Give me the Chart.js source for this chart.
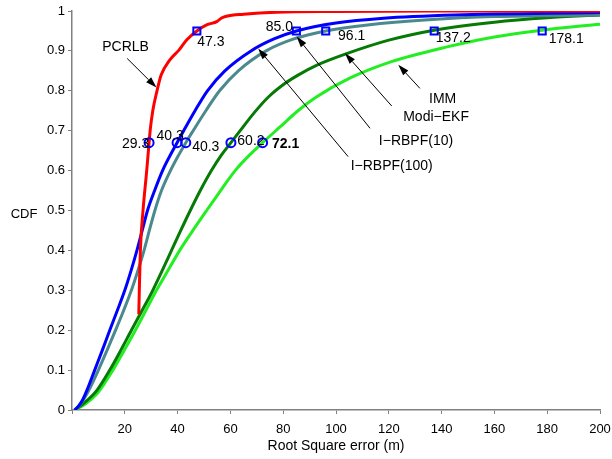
<!DOCTYPE html>
<html>
<head>
<meta charset="utf-8">
<script src="https://cdn.jsdelivr.net/npm/chart.js@4"></script>
<style>
  html, body { margin: 0; padding: 0; background: #fff; }
  #wrap { width: 612px; height: 459px; }
</style>
</head>
<body>
<div id="wrap"><canvas id="cdf" width="612" height="459"></canvas></div>
<script>
// curves: x = root square error (m), y = CDF
const pcrlbX = [25.3, 25.5, 25.9, 26.9, 28.3, 29.2, 29.6, 30.6, 32.2, 33.8, 37, 40.5, 43.5, 47.3, 51, 55, 56.5, 58.5, 65, 77.5, 100, 140, 200];
const pcrlbY = [0.24, 0.30, 0.40, 0.50, 0.60, 0.67, 0.70, 0.75, 0.80, 0.84, 0.877, 0.902, 0.928, 0.95, 0.965, 0.974, 0.982, 0.987, 0.992, 0.997, 0.999, 1.0, 1.0];

const rbpf100X = [1, 2.5, 4, 6, 8.6, 11.5, 14.3, 17.2, 20, 22.4, 24.6, 26.6, 28.6, 31.3, 34.3, 39.8, 42.3, 46.6, 51.3, 57.9, 67.8, 76.5, 85, 100, 118, 145, 200];
const rbpf100Y = [0, 0.01, 0.025, 0.055, 0.1, 0.15, 0.2, 0.25, 0.3, 0.35, 0.4, 0.45, 0.5, 0.55, 0.6, 0.67, 0.7, 0.75, 0.8, 0.85, 0.9, 0.93, 0.95, 0.97, 0.982, 0.99, 0.996];

const rbpf10X = [1, 2.7, 4.3, 6.8, 10, 13.3, 16.5, 19.6, 22.5, 25, 27.3, 29.3, 31.4, 33.9, 37.3, 40.5, 43.1, 45.9, 50.7, 55.9, 63, 73.5, 84, 96.1, 112, 135, 160, 200];
const rbpf10Y = [0, 0.01, 0.025, 0.055, 0.1, 0.15, 0.2, 0.25, 0.3, 0.35, 0.4, 0.45, 0.5, 0.55, 0.6, 0.64, 0.67, 0.7, 0.75, 0.8, 0.85, 0.9, 0.93, 0.95, 0.965, 0.978, 0.986, 0.99];

const modiEkfX = [1, 5, 9.5, 14.3, 18.5, 22.5, 26.6, 30.6, 34.2, 37.7, 41.2, 44.8, 48.6, 52.8, 56.7, 60.2, 63.7, 68.9, 74.5, 81, 85.8, 93, 103.5, 120, 137.2, 160, 180, 200];
const modiEkfY = [0, 0.02, 0.05, 0.1, 0.15, 0.2, 0.25, 0.3, 0.35, 0.4, 0.45, 0.5, 0.55, 0.6, 0.64, 0.67, 0.7, 0.744, 0.785, 0.82, 0.84, 0.865, 0.892, 0.927, 0.952, 0.972, 0.983, 0.99];

const immX = [1, 5, 10, 15.5, 19.8, 24, 28, 32, 36.4, 40.8, 45.8, 51, 56.3, 61.8, 67.4, 72.2, 78.9, 85.6, 92.7, 105, 121, 142, 160, 178.1, 200];
const immY = [0, 0.015, 0.045, 0.1, 0.15, 0.2, 0.25, 0.3, 0.35, 0.4, 0.45, 0.5, 0.55, 0.6, 0.64, 0.67, 0.71, 0.75, 0.785, 0.831, 0.873, 0.91, 0.935, 0.952, 0.967];

// marked values: circles at CDF 0.67, squares at CDF 0.95
const circleX = [29.2, 39.8, 43.1, 60.2, 72.2];
const circleLabels = ['29.3', '40.3', '40.3', '60.2', '72.1'];
const circleY = 0.67;
const squareX = [47.3, 85.0, 96.1, 137.2, 178.1];
const squareLabels = ['47.3', '85.0', '96.1', '137.2', '178.1'];
const squareY = 0.95;

const xTicks = [0, 20, 40, 60, 80, 100, 120, 140, 160, 180, 200];
const yTicks = [0, 0.1, 0.2, 0.3, 0.4, 0.5, 0.6, 0.7, 0.8, 0.9, 1];

// curve name arrows: [text, textX, textY, tailX, tailY, headX, headY] in data units
const arrowNotes = [
  ['PCRLB', 20.3, 0.91, 20.9, 0.881, 32.0, 0.808],
  ['I\u2212RBPF(100)', 121.1, 0.612, 104.6, 0.635, 70.5, 0.906],
  ['I\u2212RBPF(10)', 130.3, 0.675, 112.9, 0.706, 85.1, 0.936],
  ['Modi\u2212EKF', 137.9, 0.733, 121.1, 0.762, 103.4, 0.894],
  ['IMM', 140.4, 0.779, 131.8, 0.806, 123.6, 0.865]
];

const FONT = '"Liberation Sans", Arial, Helvetica, sans-serif';

function pts(xs, ys) {
  return xs.map((x, i) => ({ x: x, y: ys[i] }));
}

function curve(label, xs, ys, color) {
  return {
    label: label,
    data: pts(xs, ys),
    borderColor: color,
    backgroundColor: color,
    borderWidth: 3,
    pointRadius: 0,
    cubicInterpolationMode: 'monotone',
    fill: false
  };
}

// pixel offsets of the value labels from their markers
const circleOffsets = [[-13.5, 1], [-7, -7], [20, 4], [20, -2], [23, 1]];
const squareOffsets = [[14, 11], [-17, -4], [26, 5], [19, 7], [24, 8]];

const notesPlugin = {
  id: 'notes',
  afterDatasetsDraw(chart) {
    const ctx = chart.ctx;
    const xs = chart.scales.x;
    const ys = chart.scales.y;
    ctx.save();
    ctx.textAlign = 'center';
    ctx.textBaseline = 'middle';
    ctx.fillStyle = '#000';

    // value labels
    circleX.forEach((v, i) => {
      const px = xs.getPixelForValue(v);
      const py = ys.getPixelForValue(circleY);
      ctx.font = (circleLabels[i] === '72.1' ? 'bold ' : '') + '14px ' + FONT;
      ctx.fillText(circleLabels[i], px + circleOffsets[i][0], py + circleOffsets[i][1]);
    });
    ctx.font = '14px ' + FONT;
    squareX.forEach((v, i) => {
      const px = xs.getPixelForValue(v);
      const py = ys.getPixelForValue(squareY);
      ctx.fillText(squareLabels[i], px + squareOffsets[i][0], py + squareOffsets[i][1]);
    });

    // arrows with curve names
    arrowNotes.forEach((n) => {
      const tx = xs.getPixelForValue(n[1]), ty = ys.getPixelForValue(n[2]);
      const x0 = xs.getPixelForValue(n[3]), y0 = ys.getPixelForValue(n[4]);
      const x1 = xs.getPixelForValue(n[5]), y1 = ys.getPixelForValue(n[6]);
      ctx.fillText(n[0], tx, ty);
      const a = Math.atan2(y1 - y0, x1 - x0);
      const len = 11, half = 3.5;
      const bx = x1 - len * Math.cos(a), by = y1 - len * Math.sin(a);
      ctx.strokeStyle = '#000';
      ctx.lineWidth = 1;
      ctx.beginPath();
      ctx.moveTo(x0, y0);
      ctx.lineTo(bx, by);
      ctx.stroke();
      ctx.beginPath();
      ctx.moveTo(x1, y1);
      ctx.lineTo(bx + half * Math.sin(a), by - half * Math.cos(a));
      ctx.lineTo(bx - half * Math.sin(a), by + half * Math.cos(a));
      ctx.closePath();
      ctx.fill();
    });

    // y axis name, written level like the original
    ctx.font = '13px ' + FONT;
    ctx.fillText('CDF', chart.chartArea.left - 48, ys.getPixelForValue(0.49));
    ctx.restore();
  }
};

// keep the plot box fixed: no automatic padding for edge labels
function noEdgePad(s) {
  s.paddingLeft = 0;
  s.paddingRight = 0;
  s.paddingTop = 0;
  s.paddingBottom = 0;
}

const ctx = document.getElementById('cdf');
new Chart(ctx, {
  type: 'line',
  data: {
    datasets: [
      {
        label: 'circles',
        type: 'scatter',
        data: circleX.map(x => ({ x: x, y: circleY })),
        pointStyle: 'circle',
        pointRadius: 4.5,
        pointBorderWidth: 2,
        borderColor: '#0000ff',
        backgroundColor: 'rgba(0,0,0,0)',
        showLine: false
      },
      {
        label: 'squares',
        type: 'scatter',
        data: squareX.map(x => ({ x: x, y: squareY })),
        pointStyle: 'rect',
        pointRadius: 5,
        pointBorderWidth: 2,
        borderColor: '#0000ff',
        backgroundColor: 'rgba(0,0,0,0)',
        showLine: false
      },
      curve('PCRLB', pcrlbX, pcrlbY, '#ff0000'),
      curve('I-RBPF(100)', rbpf100X, rbpf100Y, '#0000ff'),
      curve('I-RBPF(10)', rbpf10X, rbpf10Y, '#4a8a8e'),
      curve('Modi-EKF', modiEkfX, modiEkfY, '#057a05'),
      curve('IMM', immX, immY, '#22ee22')
    ]
  },
  options: {
    responsive: false,
    animation: false,
    layout: { autoPadding: false, padding: { left: 0, right: 12, top: 11, bottom: 0 } },
    plugins: {
      legend: { display: false },
      tooltip: { enabled: false }
    },
    scales: {
      x: {
        type: 'linear',
        min: 0,
        max: 200,
        afterBuildTicks: (s) => { s.ticks = xTicks.map(v => ({ value: v })); },
        afterFit: (s) => { s.height = 49; noEdgePad(s); },
        ticks: {
          color: '#000',
          font: { family: FONT, size: 13 },
          padding: 8,
          maxRotation: 0,
          callback: (v) => (v === 0 ? '' : String(v))
        },
        grid: { drawOnChartArea: false, drawTicks: true, tickLength: 4, color: '#808080' },
        border: { color: '#808080', width: 1.5 },
        title: {
          display: true,
          text: 'Root Square error (m)',
          color: '#000',
          font: { family: FONT, size: 14 },
          padding: { top: 0, bottom: 4 }
        }
      },
      y: {
        type: 'linear',
        min: 0,
        max: 1,
        afterBuildTicks: (s) => { s.ticks = yTicks.map(v => ({ value: v })); },
        afterFit: (s) => { s.width = 72; noEdgePad(s); },
        ticks: {
          color: '#000',
          font: { family: FONT, size: 13 },
          padding: 3,
          callback: (v) => (v === 0 ? '0' : v === 1 ? '1' : v.toFixed(1))
        },
        grid: { drawOnChartArea: false, drawTicks: true, tickLength: 4, color: '#808080' },
        border: { color: '#808080', width: 1.5 }
      }
    }
  },
  plugins: [notesPlugin]
});
</script>
</body>
</html>
